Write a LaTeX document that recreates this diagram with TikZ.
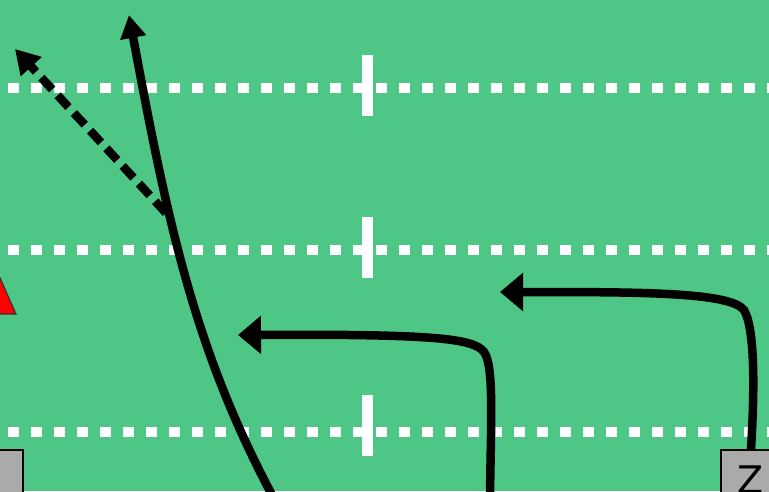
\documentclass[tikz,border=0pt]{standalone}
\usepackage{fontspec}
\newfontfamily\labelfont{DejaVu Sans}
\usetikzlibrary{arrows.meta}
\definecolor{field}{RGB}{77,198,134}
\definecolor{boxgray}{RGB}{170,170,170}
\tikzset{
  yardline/.style={white, line width=10pt, dash pattern=on 11pt off 12pt},
  tickmark/.style={fill=white, draw=none},
  route/.style={black, line width=8.5pt},
  hhead/.style={-{Triangle[length=23pt,width=37pt]}},
  vhead/.style={-{Triangle[length=23pt,width=25pt]}},
  player/.style={draw=black, fill=boxgray, line width=1.5pt, minimum width=60pt, minimum height=60pt, inner sep=0pt, font=\labelfont\fontsize{38}{38}\selectfont},
}
\begin{document}
\begin{tikzpicture}[x=1pt,y=-1pt]
\useasboundingbox (0,0) rectangle (769,491);
\clip (0,0) rectangle (769,491);
\fill[field] (0,0) rectangle (769,491);
% yard lines
\foreach \y/\t in {88/55,250/217,432/395}{
  \draw[yardline] (8,\y) -- (775,\y);
  \fill[tickmark] (362,\t) rectangle (373,\t+61);
}
% red triangle
\filldraw[fill=red, draw=black!80, line width=1.2pt] (-17,314) -- (0,278) -- (16,314) -- cycle;
% players
\node[player] (lb) at (-7,480) {};
\node[player] (z) at (751,480) {Z};
% coordinates
\coordinate (s1) at (272,495);
\coordinate (t1) at (129,15);
\coordinate (j) at (166,213);
\coordinate (t2) at (15,49);
\coordinate (s3) at (490,495);
\coordinate (t3) at (238,335);
\coordinate (t4) at (500,292);
% long route
\draw[route, vhead] (s1) .. controls (195,350) and (168,225) .. (t1);
% dashed branch
\draw[route, dash pattern=on 16pt off 8pt, -{Triangle[length=24pt,width=27pt]}] (j) -- (t2);
% in route
\draw[route, hhead] (s3) .. controls (491,420) and (494,365) .. (484,352)
  .. controls (474,338) and (430,334) .. (t3);
% Z route
\draw[route, hhead] (z.north) .. controls (754,400) and (756,330) .. (744,310)
  .. controls (730,292) and (640,292) .. (t4);
\end{tikzpicture}
\end{document}
